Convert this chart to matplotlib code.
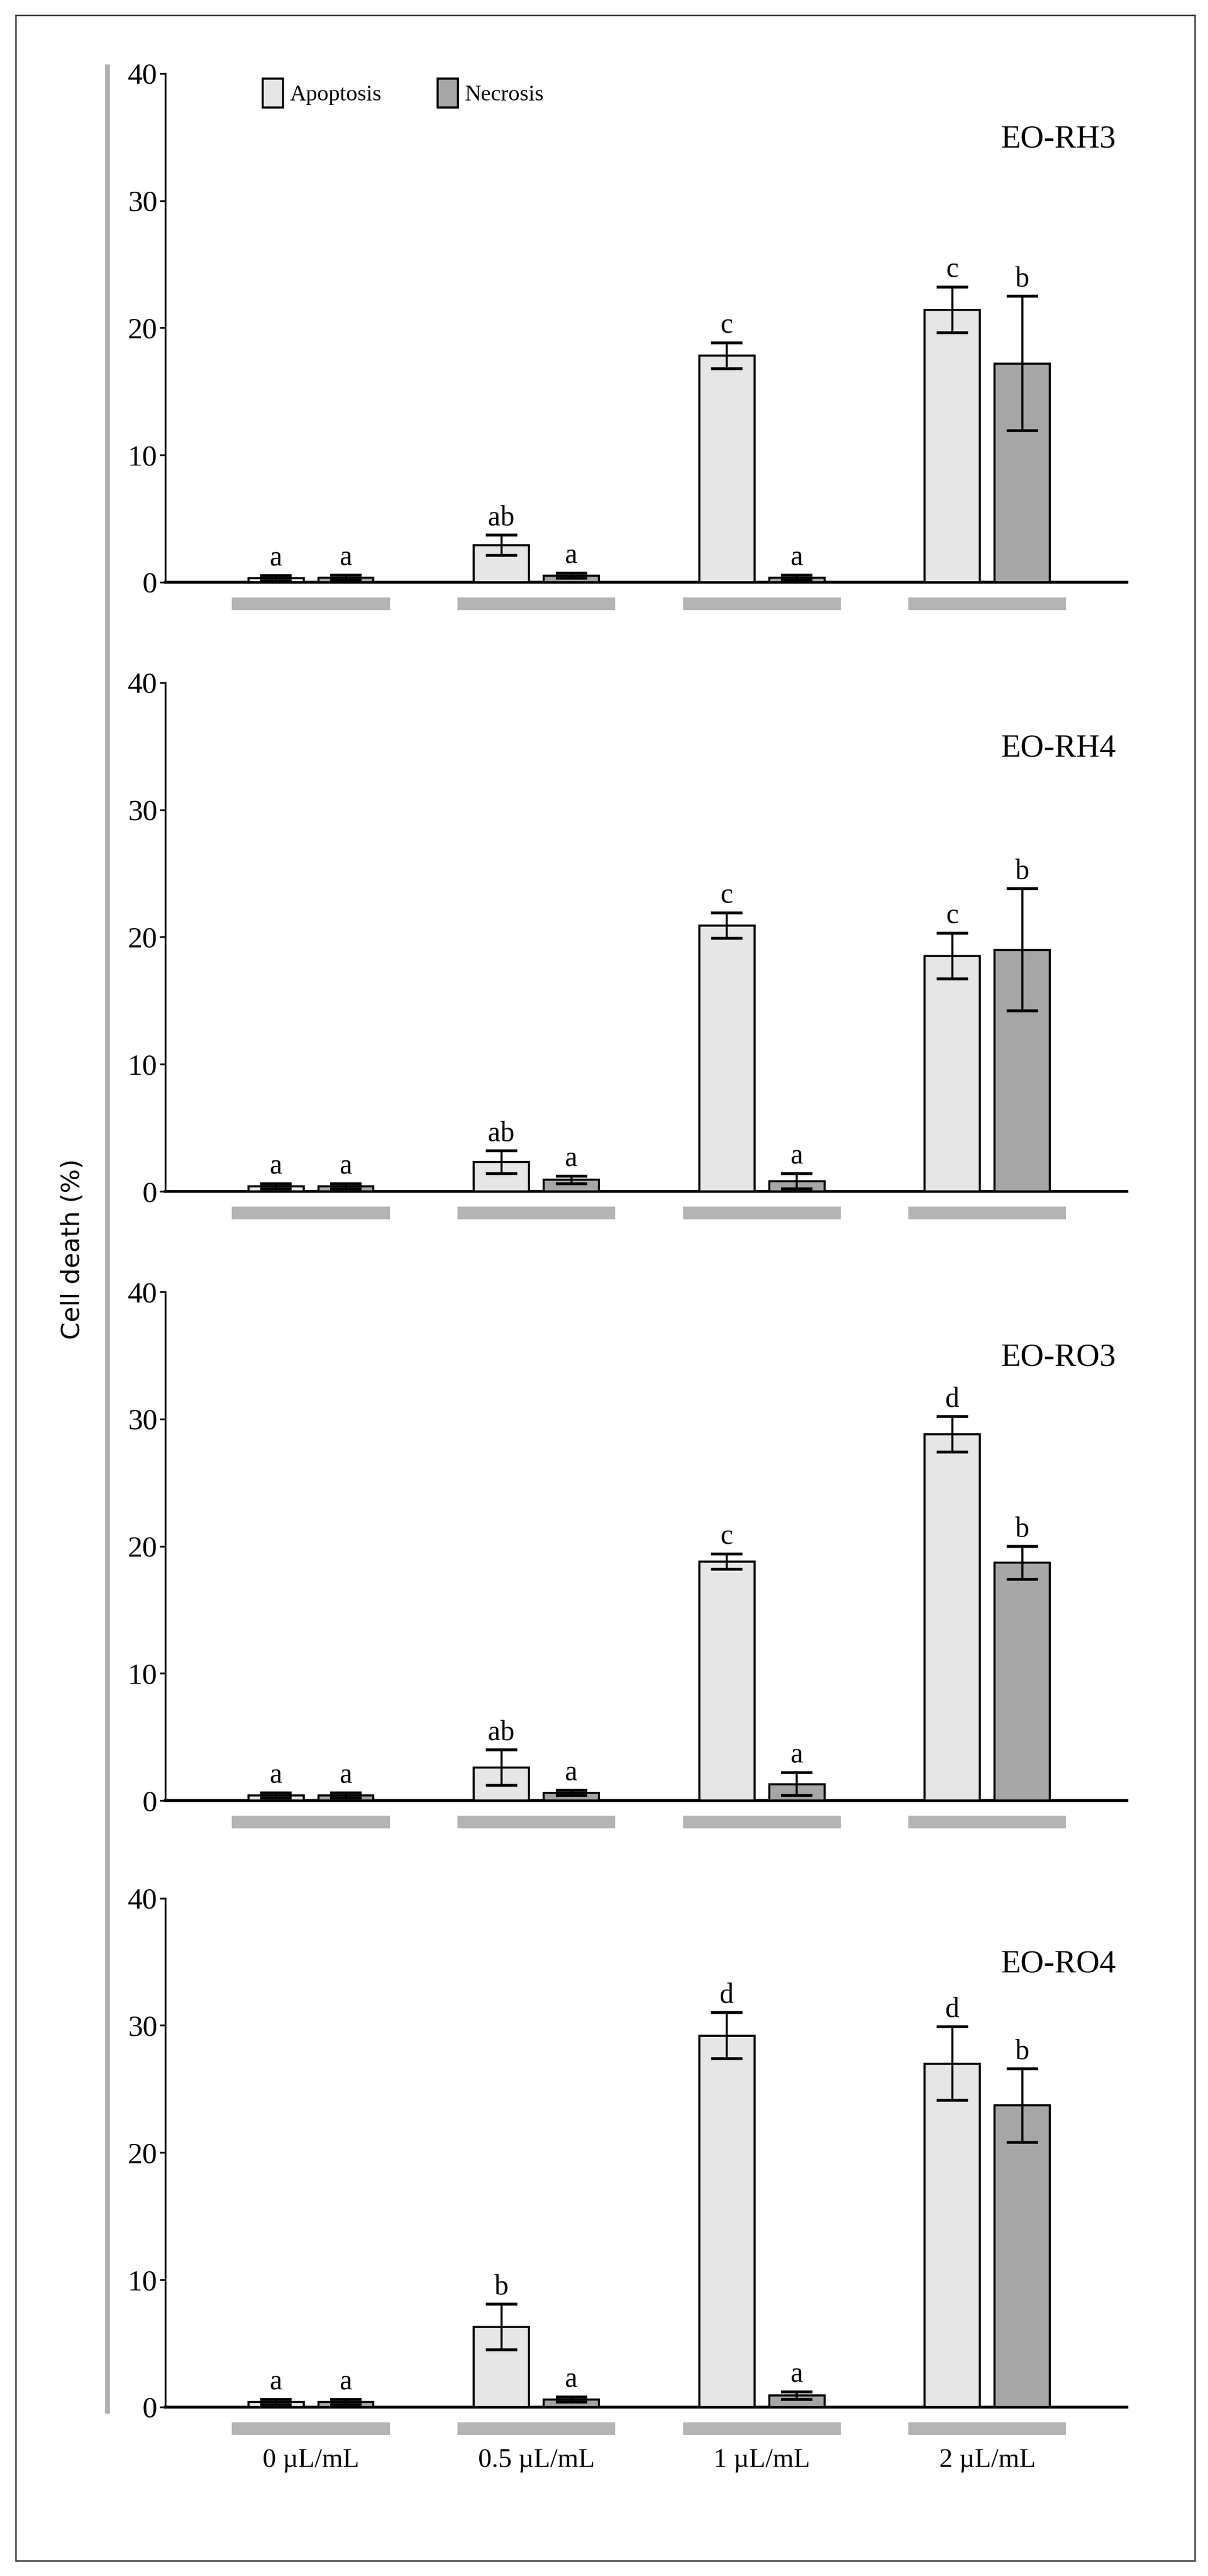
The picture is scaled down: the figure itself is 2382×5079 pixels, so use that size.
import numpy as np
import matplotlib.pyplot as plt
from matplotlib.patches import Rectangle
from matplotlib.lines import Line2D

doses = ["0 µL/mL", "0.5 µL/mL", "1 µL/mL", "2 µL/mL"]
panels = ["EO-RH3", "EO-RH4", "EO-RO3", "EO-RO4"]

apop = [[0.3, 2.9, 17.8, 21.4],
        [0.4, 2.3, 20.9, 18.5],
        [0.4, 2.6, 18.8, 28.8],
        [0.4, 6.3, 29.2, 27.0]]
apop_err = [[0.2, 0.8, 1.0, 1.8],
            [0.2, 0.9, 1.0, 1.8],
            [0.2, 1.4, 0.6, 1.4],
            [0.2, 1.8, 1.8, 2.9]]
necr = [[0.35, 0.5, 0.35, 17.2],
        [0.4, 0.9, 0.8, 19.0],
        [0.4, 0.6, 1.3, 18.7],
        [0.4, 0.6, 0.9, 23.7]]
necr_err = [[0.2, 0.2, 0.2, 5.3],
            [0.2, 0.3, 0.6, 4.8],
            [0.2, 0.2, 0.9, 1.3],
            [0.2, 0.2, 0.3, 2.9]]
apop_letters = [["a", "ab", "c", "c"],
                ["a", "ab", "c", "c"],
                ["a", "ab", "c", "d"],
                ["a", "b", "d", "d"]]
necr_letters = [["a", "a", "a", "b"]] * 4

plt.rcParams["font.family"] = "Liberation Serif"

fig = plt.figure(figsize=(23.82, 50.79), dpi=100)

# outer frame and grey vertical guide
fig.add_artist(Rectangle((0.013, 0.006), 0.976, 0.988, transform=fig.transFigure,
                         fill=False, edgecolor="#333333", lw=2))
fig.add_artist(Line2D([0.089, 0.089], [0.064, 0.974], transform=fig.transFigure,
                      color="#b0b0b0", lw=7))
fig.text(0.06, 0.515, "Cell death (%)", rotation=90, ha="center", va="center",
         fontsize=36, family="DejaVu Sans")

bottoms = [0.774, 0.5375, 0.301, 0.0656]
x = np.arange(len(doses))
w = 0.245
off = 0.155
light = "#e6e6e6"
dark = "#a6a6a6"

for i, name in enumerate(panels):
    ax = fig.add_axes([0.137, bottoms[i], 0.796, 0.1975])
    ax.set_xlim(-0.645, 3.62)
    ax.set_ylim(0, 40)
    ekw = dict(elinewidth=3, capthick=4, capsize=22)
    ax.bar(x - off, apop[i], w, yerr=apop_err[i], color=light, edgecolor="black",
           lw=3, error_kw=ekw, label="Apoptosis", zorder=3)
    ax.bar(x + off, necr[i], w, yerr=necr_err[i], color=dark, edgecolor="black",
           lw=3, error_kw=ekw, label="Necrosis", zorder=3)
    for j in range(len(doses)):
        ax.text(x[j] - off, apop[i][j] + apop_err[i][j] + 0.3, apop_letters[i][j],
                ha="center", va="bottom", fontsize=40)
        ax.text(x[j] + off, necr[i][j] + necr_err[i][j] + 0.3, necr_letters[i][j],
                ha="center", va="bottom", fontsize=40)
    ax.bar(x, 1.0, 0.7, bottom=-2.2, color="#b4b4b4", clip_on=False)
    ax.text(3.57, 34.8, name, ha="right", va="center", fontsize=46)
    for s in ["top", "right"]:
        ax.spines[s].set_visible(False)
    ax.spines["bottom"].set_linewidth(4)
    ax.spines["left"].set_linewidth(2.5)
    ax.set_xticks([])
    ax.set_yticks([0, 10, 20, 30, 40])
    ax.tick_params(axis="y", labelsize=42, width=2.5, length=8, direction="out")
    if i == 0:
        ax.legend(loc="upper left", bbox_to_anchor=(0.08, 1.03), ncol=2, frameon=False,
                  fontsize=32, handlelength=0.9, handleheight=1.6, columnspacing=2.5,
                  handletextpad=0.3)
    if i == 3:
        for j, d in enumerate(doses):
            ax.text(x[j], -4.2, d, ha="center", va="center", fontsize=38)

fig.savefig("out.png", dpi=100)
